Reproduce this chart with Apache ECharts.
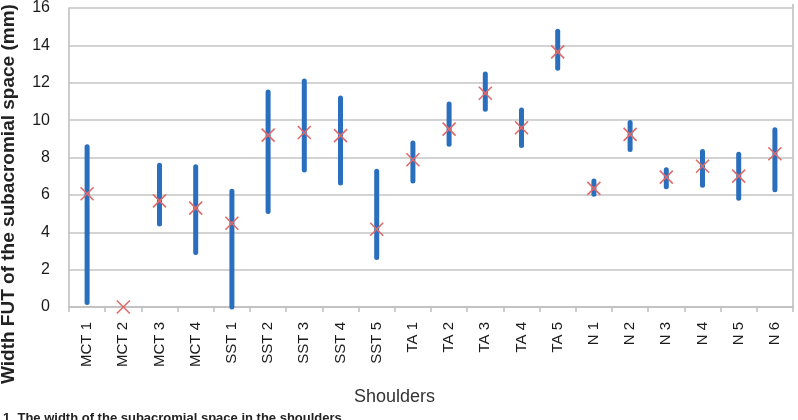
<!DOCTYPE html>
<html>
<head>
<meta charset="utf-8">
<script src="https://cdn.jsdelivr.net/npm/echarts@6/dist/echarts.min.js"></script>
<style>html,body{margin:0;padding:0;background:#fff}#c{width:798px;height:420px}</style>
</head>
<body>
<div id="c"></div>
<script>
const categories = ['MCT 1','MCT 2','MCT 3','MCT 4','SST 1','SST 2','SST 3','SST 4','SST 5','TA 1','TA 2','TA 3','TA 4','TA 5','N 1','N 2','N 3','N 4','N 5','N 6'];
const lowValues  = [0.24, null, 4.44, 2.91, 0.0, 5.11, 7.33, 6.63, 2.65, 6.74, 8.71, 10.58, 8.64, 12.78, 6.03, 8.43, 6.43, 6.52, 5.82, 6.28];
const highValues = [8.57, null, 7.58, 7.51, 6.2, 11.5, 12.1, 11.18, 7.26, 8.78, 10.86, 12.47, 10.54, 14.76, 6.74, 9.87, 7.35, 8.32, 8.18, 9.49];
const meanValues = [6.06, 0.0, 5.68, 5.29, 4.48, 9.2, 9.34, 9.17, 4.16, 7.88, 9.52, 11.44, 9.59, 13.65, 6.35, 9.24, 6.95, 7.53, 7.0, 8.2];
const yTicks = [0, 2, 4, 6, 8, 10, 12, 14, 16];

const rangeData = categories.map((c, i) => [i, lowValues[i], highValues[i]]).filter(d => d[1] !== null);
const meanData = categories.map((c, i) => [i, meanValues[i]]);

const chart = echarts.init(document.getElementById('c'), null, {renderer: 'canvas'});
chart.setOption({
  animation: false,
  grid: {left: 69, right: 5, top: 4, bottom: 113, show: false},
  xAxis: {
    type: 'category',
    data: categories,
    boundaryGap: true,
    axisLine: {show: true, lineStyle: {color: '#bdbdbd', width: 1.5}},
    axisTick: {show: true, alignWithLabel: false, length: 5, lineStyle: {color: '#bdbdbd', width: 1.5}},
    axisLabel: {rotate: 90, fontSize: 15, color: '#1a1a1a', fontFamily: 'Liberation Sans', margin: 15, interval: 0},
    splitLine: {show: false}
  },
  yAxis: {
    type: 'value',
    min: yTicks[0], max: yTicks[yTicks.length - 1], interval: 2,
    axisLine: {show: true, lineStyle: {color: '#bdbdbd', width: 1.5}},
    axisTick: {show: false},
    axisLabel: {fontSize: 16, color: '#1a1a1a', fontFamily: 'Liberation Sans', margin: 19},
    splitLine: {show: true, lineStyle: {color: '#c4c4c4', width: 1.5}}
  },
  series: [
    {
      type: 'custom',
      data: rangeData,
      encode: {x: 0, y: [1, 2]},
      renderItem: function (params, api) {
        const p1 = api.coord([api.value(0), api.value(1)]);
        const p2 = api.coord([api.value(0), api.value(2)]);
        return {
          type: 'line',
          shape: {x1: p1[0], y1: p1[1], x2: p2[0], y2: p2[1]},
          style: {stroke: '#2a6fbd', lineWidth: 5, lineCap: 'round'}
        };
      },
      z: 2
    },
    {
      type: 'custom',
      data: meanData,
      encode: {x: 0, y: 1},
      renderItem: function (params, api) {
        const p = api.coord([api.value(0), api.value(1)]);
        const s = 6.5;
        return {
          type: 'group',
          children: [
            {type: 'line', shape: {x1: p[0]-s, y1: p[1]-s, x2: p[0]+s, y2: p[1]+s}, style: {stroke: '#e06a6a', lineWidth: 1.6}},
            {type: 'line', shape: {x1: p[0]-s, y1: p[1]+s, x2: p[0]+s, y2: p[1]-s}, style: {stroke: '#e06a6a', lineWidth: 1.6}}
          ]
        };
      },
      z: 3
    }
  ],
  graphic: [
    {type: 'line', shape: {x1: 793, y1: 4, x2: 793, y2: 307}, style: {stroke: '#bdbdbd', lineWidth: 1.5}},
    {type: 'text', left: 354, top: 388, style: {text: 'Shoulders', fontSize: 18, fill: '#333', fontFamily: 'Liberation Sans'}},
    {type: 'text', x: 9, y: 384, rotation: Math.PI / 2, style: {text: 'Width FUT of the subacromial space (mm)', fontSize: 19, fontWeight: 'bold', fill: '#222', fontFamily: 'Liberation Sans', textAlign: 'left', textVerticalAlign: 'middle'}},
    {type: 'text', left: 3, top: 412, style: {text: '1. The width of the subacromial space in the shoulders', fontSize: 13, fontWeight: 'bold', fill: '#222', fontFamily: 'Liberation Sans'}}
  ]
});
</script>
</body>
</html>
